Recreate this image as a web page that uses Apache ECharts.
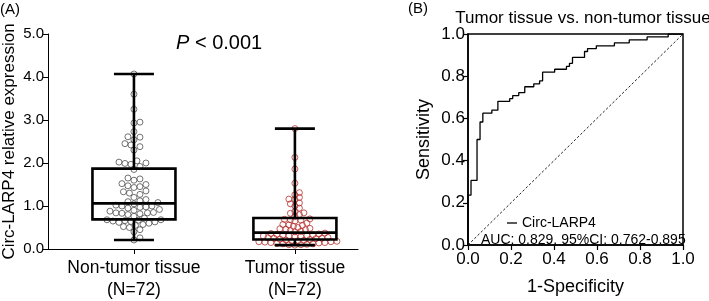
<!DOCTYPE html>
<html>
<head>
<meta charset="utf-8">
<script src="https://cdn.jsdelivr.net/npm/echarts@6/dist/echarts.min.js"></script>
<style>
html, body { margin: 0; padding: 0; background: #fff; }
#chart { width: 709px; height: 301px; }
</style>
</head>
<body>
<div id="chart"></div>
<script>
var FONT = 'Arial, "Liberation Sans", sans-serif';

// ---- panel A: box + dots ----
var groupNames = ['Non-tumor tissue\n(N=72)', 'Tumor tissue\n(N=72)'];
var groupPos = [1, 2];
// min, Q1, median, Q3, max
var boxNonTumor = [0.21, 0.69, 1.06, 1.87, 4.07];
var boxTumor = [0.09, 0.22, 0.38, 0.72, 2.80];

var dotsNonTumor = [
    4.07, 3.60, 3.25, 2.95, 2.93, 2.73, 2.61, 2.60, 2.54, 2.45, 2.42, 2.38, 2.30,
    2.05, 2.02, 2.00, 1.99, 1.97, 1.92,
    1.85, 1.65, 1.63, 1.60, 1.52, 1.50, 1.47, 1.45, 1.43, 1.35, 1.33, 1.30, 1.27,
    1.20, 1.15, 1.12, 1.10, 1.08,
    1.05, 1.02, 1.00, 1.00, 0.98, 0.97, 0.95, 0.92, 0.90, 0.88, 0.85, 0.84, 0.84,
    0.83, 0.82, 0.80, 0.76, 0.72,
    0.68, 0.68, 0.67, 0.66, 0.65, 0.64, 0.63, 0.62, 0.60, 0.57, 0.55, 0.52, 0.50,
    0.45, 0.40, 0.26, 0.21
];
var dotsTumor = [
    2.80, 2.13, 1.86, 1.53, 1.31, 1.26, 1.20, 1.16, 1.15, 1.07, 1.05, 1.00, 0.95,
    0.87, 0.84, 0.83, 0.80, 0.76,
    0.70, 0.69, 0.68, 0.67, 0.65, 0.60, 0.57, 0.56, 0.55, 0.53, 0.50, 0.48, 0.47,
    0.46, 0.45, 0.43, 0.41, 0.40,
    0.37, 0.36, 0.35, 0.34, 0.33, 0.32, 0.31, 0.30, 0.30, 0.29, 0.28, 0.27, 0.26,
    0.25, 0.25, 0.24, 0.23, 0.22,
    0.21, 0.20, 0.19, 0.19, 0.18, 0.17, 0.17, 0.16, 0.15, 0.15, 0.14, 0.13, 0.12,
    0.12, 0.11, 0.10, 0.10, 0.09
];

// ---- panel B: ROC ----
var rocFpr = [0, 0, 0.014, 0.042, 0.056, 0.069, 0.111, 0.139, 0.194, 0.208, 0.236, 0.264, 0.306,
    0.333, 0.347, 0.403, 0.458, 0.472, 0.486, 0.542, 0.556, 0.597, 0.681, 0.750, 0.833, 0.931, 1.0];
var rocTpr = [0, 0.236, 0.306, 0.500, 0.583, 0.625, 0.639, 0.681, 0.694, 0.708, 0.722, 0.750, 0.764,
    0.778, 0.819, 0.833, 0.847, 0.861, 0.889, 0.917, 0.931, 0.944, 0.958, 0.972, 0.986, 1.0, 1.0];

// grid A geometry
var gA = {left: 48, top: 34, width: 310, height: 215};
var xMinA = 0.466, xMaxA = 2.392;
var pxPerX = gA.width / (xMaxA - xMinA);
var pxPerY = gA.height / 5;

// simple beeswarm, offsets worked out in pixels then turned back into axis units
function swarm(values, center, d) {
    var placed = [], out = [];
    values.slice().sort(function (a, b) { return a - b; }).forEach(function (v) {
        var py = v * pxPerY;
        for (var k = 0; k < 200; k++) {
            var off = Math.ceil(k / 2) * (k % 2 ? 1 : -1) * 1.5;
            var ok = placed.every(function (p) {
                var dx = p[0] - off, dy = p[1] - py;
                return dx * dx + dy * dy >= d * d;
            });
            if (ok) {
                placed.push([off, py]);
                out.push([center + off / pxPerX, v]);
                break;
            }
        }
    });
    return out;
}

var boxData = [[groupPos[0]].concat(boxNonTumor), [groupPos[1]].concat(boxTumor)];

var rocLine = [];
for (var i = 0; i < rocFpr.length; i++) {
    if (i > 0) rocLine.push([rocFpr[i], rocTpr[i - 1]]);
    rocLine.push([rocFpr[i], rocTpr[i]]);
}

function fmt1(v) { return v.toFixed(1); }

var option = {
    animation: false,
    backgroundColor: '#fff',
    textStyle: {fontFamily: FONT},
    title: {
        text: 'Tumor tissue vs. non-tumor tissue',
        left: 578, top: 5, textAlign: 'center',
        textStyle: {fontFamily: FONT, fontSize: 17, fontWeight: 'normal', color: '#000'}
    },
    legend: {
        data: ['Circ-LARP4'],
        left: 502, top: 211,
        icon: 'rect', itemWidth: 10, itemHeight: 1.3, itemGap: 4,
        textStyle: {fontFamily: FONT, fontSize: 14, color: '#000'}
    },
    grid: [
        {left: gA.left, top: gA.top, width: gA.width, height: gA.height},
        {left: 468, top: 34, width: 215, height: 215, show: true, borderColor: '#000', borderWidth: 1.5}
    ],
    xAxis: [
        {
            gridIndex: 0, type: 'value', min: xMinA, max: xMaxA,
            axisLine: {lineStyle: {color: '#000', width: 1}},
            axisTick: {customValues: groupPos, length: 5, lineStyle: {color: '#000'}},
            axisLabel: {
                customValues: groupPos, margin: 8, color: '#000', fontSize: 17.5, lineHeight: 22,
                fontFamily: FONT,
                formatter: function (v) { return groupNames[Math.round(v) - 1]; }
            },
            splitLine: {show: false}
        },
        {
            gridIndex: 1, type: 'value', min: 0, max: 1, interval: 0.2,
            axisLine: {lineStyle: {color: '#000', width: 1.5}},
            axisTick: {length: 5, lineStyle: {color: '#000', width: 1.2}},
            axisLabel: {margin: 6, color: '#000', fontSize: 17, fontFamily: FONT, formatter: fmt1},
            splitLine: {show: false},
            name: '1-Specificity', nameLocation: 'middle', nameGap: 33,
            nameTextStyle: {fontSize: 18, color: '#000', fontFamily: FONT}
        }
    ],
    yAxis: [
        {
            gridIndex: 0, type: 'value', min: 0, max: 5, interval: 1,
            axisLine: {show: true, lineStyle: {color: '#000', width: 1}},
            axisTick: {show: true, length: 5, lineStyle: {color: '#000'}},
            axisLabel: {margin: 4, color: '#000', fontSize: 15, fontFamily: FONT, formatter: fmt1},
            splitLine: {show: false},
            name: 'Circ-LARP4 relative expression', nameLocation: 'middle', nameGap: 30,
            nameTextStyle: {fontSize: 17, color: '#000', fontFamily: FONT}
        },
        {
            gridIndex: 1, type: 'value', min: 0, max: 1, interval: 0.2,
            axisLine: {show: true, lineStyle: {color: '#000', width: 1.5}},
            axisTick: {show: true, length: 5, lineStyle: {color: '#000', width: 1.2}},
            axisLabel: {margin: 3, color: '#000', fontSize: 17, fontFamily: FONT, formatter: fmt1},
            splitLine: {show: false},
            name: 'Sensitivity', nameLocation: 'middle', nameGap: 35,
            nameTextStyle: {fontSize: 18, color: '#000', fontFamily: FONT}
        }
    ],
    series: [
        {
            type: 'scatter', xAxisIndex: 0, yAxisIndex: 0, z: 2,
            data: swarm(dotsNonTumor, groupPos[0], 5.8),
            symbol: 'circle', symbolSize: 6,
            itemStyle: {color: 'rgba(0,0,0,0)', borderColor: '#505050', borderWidth: 1}
        },
        {
            type: 'scatter', xAxisIndex: 0, yAxisIndex: 0, z: 2,
            data: swarm(dotsTumor, groupPos[1], 4.6),
            symbol: 'circle', symbolSize: 6,
            itemStyle: {color: 'rgba(0,0,0,0)', borderColor: '#b8312f', borderWidth: 1}
        },
        {
            type: 'custom', xAxisIndex: 0, yAxisIndex: 0, z: 5,
            data: boxData,
            encode: {x: 0, y: [1, 2, 3, 4, 5]},
            renderItem: function (params, api) {
                var x = api.value(0);
                var pt = function (d) { return api.coord([x, api.value(d)]); };
                var pMin = pt(1), pQ1 = pt(2), pMed = pt(3), pQ3 = pt(4), pMax = pt(5);
                var cx = pMin[0], hw = 41.5, cw = 20;
                var st = {stroke: '#000', lineWidth: 2.6, fill: null};
                var ln = function (x1, y1, x2, y2) {
                    return {type: 'line', shape: {x1: x1, y1: y1, x2: x2, y2: y2}, style: st};
                };
                return {
                    type: 'group',
                    children: [
                        {type: 'rect', shape: {x: cx - hw, y: pQ3[1], width: hw * 2, height: pQ1[1] - pQ3[1]}, style: st},
                        ln(cx - hw, pMed[1], cx + hw, pMed[1]),
                        ln(cx, pQ3[1], cx, pMax[1]),
                        ln(cx, pQ1[1], cx, pMin[1]),
                        ln(cx - cw, pMax[1], cx + cw, pMax[1]),
                        ln(cx - cw, pMin[1], cx + cw, pMin[1])
                    ]
                };
            }
        },
        {
            name: 'Circ-LARP4', type: 'line', xAxisIndex: 1, yAxisIndex: 1,
            data: rocLine, symbol: 'none', z: 4,
            lineStyle: {color: '#000', width: 1.3},
            itemStyle: {color: '#000'}
        },
        {
            type: 'line', xAxisIndex: 1, yAxisIndex: 1,
            data: [[0, 0], [1, 1]], symbol: 'none', z: 3,
            lineStyle: {color: '#222', width: 1, type: [2.5, 2]}
        }
    ],
    graphic: [
        {type: 'text', left: 0, top: 2, style: {text: '(A)', font: '15px ' + FONT, fill: '#000'}},
        {type: 'text', left: 408, top: 1, style: {text: '(B)', font: '15px ' + FONT, fill: '#000'}},
        {
            type: 'text', left: 176, top: 33,
            style: {
                text: '{i|P} < 0.001',
                font: '20px ' + FONT, fill: '#000',
                rich: {i: {fontStyle: 'italic', fontSize: 20, fontFamily: FONT}}
            }
        },
        {type: 'text', left: 481, top: 233, style: {text: 'AUC: 0.829, 95%CI: 0.762-0.895', font: '14px ' + FONT, fill: '#000'}}
    ]
};

var myChart = echarts.init(document.getElementById('chart'));
myChart.setOption(option);
</script>
</body>
</html>
